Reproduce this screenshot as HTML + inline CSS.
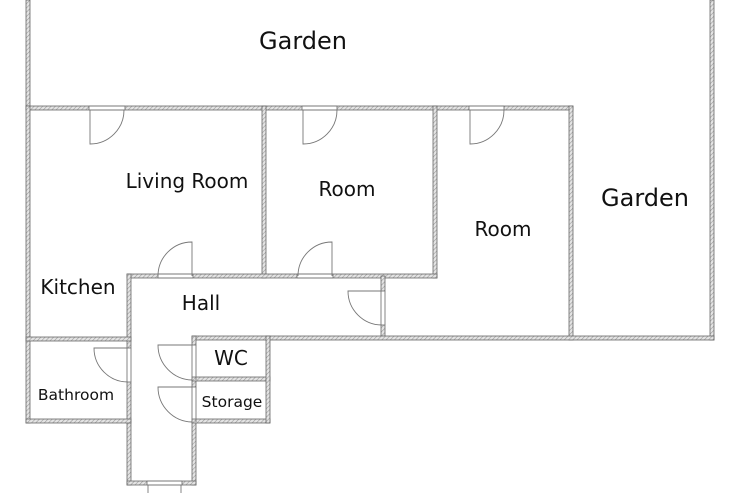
<!DOCTYPE html>
<html><head><meta charset="utf-8"><style>
html,body{margin:0;padding:0;background:#fff;}
svg{display:block;}
text{font-family:"DejaVu Sans","Liberation Sans",sans-serif;fill:#111;text-anchor:middle;}
</style></head><body>
<svg width="740" height="493" viewBox="0 0 740 493" xmlns="http://www.w3.org/2000/svg">
<defs>
<pattern id="h" width="3" height="3" patternUnits="userSpaceOnUse" patternTransform="rotate(45)">
<rect width="3" height="3" fill="#e4e4e4"/><line x1="0" y1="0" x2="0" y2="3" stroke="#999" stroke-width="1.2"/>
</pattern>
</defs>
<g fill="url(#h)" stroke="#666" stroke-width="0.8">
<rect x="26" y="0" width="4" height="110"/>
<rect x="710" y="0" width="4" height="340"/>
<rect x="26" y="106" width="63" height="4"/>
<rect x="125" y="106" width="177" height="4"/>
<rect x="337" y="106" width="132" height="4"/>
<rect x="504" y="106" width="69" height="4"/>
<rect x="569" y="106" width="4" height="234"/>
<rect x="26" y="106" width="4" height="317"/>
<rect x="262" y="106" width="4" height="172"/>
<rect x="433" y="106" width="4" height="172"/>
<rect x="127" y="274" width="31" height="4"/>
<rect x="193" y="274" width="104" height="4"/>
<rect x="333" y="274" width="104" height="4"/>
<rect x="381" y="276" width="4" height="15"/>
<rect x="381" y="325" width="4" height="13"/>
<rect x="192" y="336" width="522" height="4"/>
<rect x="127" y="274" width="4" height="74"/>
<rect x="127" y="382" width="4" height="103"/>
<rect x="26" y="337" width="105" height="4"/>
<rect x="26" y="419" width="105" height="4"/>
<rect x="192" y="336" width="4" height="9"/>
<rect x="192" y="380" width="4" height="7"/>
<rect x="192" y="422" width="4" height="63"/>
<rect x="127" y="481" width="20" height="4"/>
<rect x="182" y="481" width="14" height="4"/>
<rect x="192" y="377" width="78" height="4"/>
<rect x="192" y="419" width="78" height="4"/>
<rect x="266" y="336" width="4" height="87"/>
</g>
<g fill="none" stroke="#777" stroke-width="0.9">
<line x1="89" y1="106" x2="125" y2="106"/><line x1="89" y1="110" x2="125" y2="110"/>
<line x1="302" y1="106" x2="337" y2="106"/><line x1="302" y1="110" x2="337" y2="110"/>
<line x1="469" y1="106" x2="504" y2="106"/><line x1="469" y1="110" x2="504" y2="110"/>
<line x1="158" y1="274" x2="193" y2="274"/><line x1="158" y1="278" x2="193" y2="278"/>
<line x1="297" y1="274" x2="333" y2="274"/><line x1="297" y1="278" x2="333" y2="278"/>
<line x1="381" y1="291" x2="381" y2="325"/><line x1="385" y1="291" x2="385" y2="325"/>
<line x1="127" y1="348" x2="127" y2="382"/><line x1="131" y1="348" x2="131" y2="382"/>
<line x1="192" y1="345" x2="192" y2="380"/><line x1="196" y1="345" x2="196" y2="380"/>
<line x1="192" y1="387" x2="192" y2="422"/><line x1="196" y1="387" x2="196" y2="422"/>
<line x1="147" y1="481" x2="182" y2="481"/><line x1="147" y1="485" x2="182" y2="485"/>
<path d="M90 110 V144 A34 34 0 0 0 124 110"/>
<path d="M303 110 V144 A34 34 0 0 0 337 110"/>
<path d="M470 110 V144 A34 34 0 0 0 504 110"/>
<path d="M192 276 V242 A34 34 0 0 0 158 276"/>
<path d="M332 276 V242 A34 34 0 0 0 298 276"/>
<path d="M382 291 H348 A34 34 0 0 0 382 325"/>
<path d="M128 348 H94 A34 34 0 0 0 128 382"/>
<path d="M192 345 H158 A35 35 0 0 0 192 380"/>
<path d="M192 387 H158 A35 35 0 0 0 192 422"/>
<line x1="148" y1="485" x2="148" y2="493"/><line x1="181" y1="485" x2="181" y2="493"/>
</g>
<text x="303" y="49" font-size="24">Garden</text>
<text x="645" y="206" font-size="24">Garden</text>
<text x="187" y="188" font-size="20">Living Room</text>
<text x="347" y="196" font-size="20">Room</text>
<text x="503" y="236" font-size="20">Room</text>
<text x="78" y="294" font-size="20">Kitchen</text>
<text x="201" y="310" font-size="20">Hall</text>
<text x="231" y="365" font-size="20">WC</text>
<text x="76" y="400" font-size="15.5">Bathroom</text>
<text x="232" y="407" font-size="15.5">Storage</text>
</svg>
</body></html>
